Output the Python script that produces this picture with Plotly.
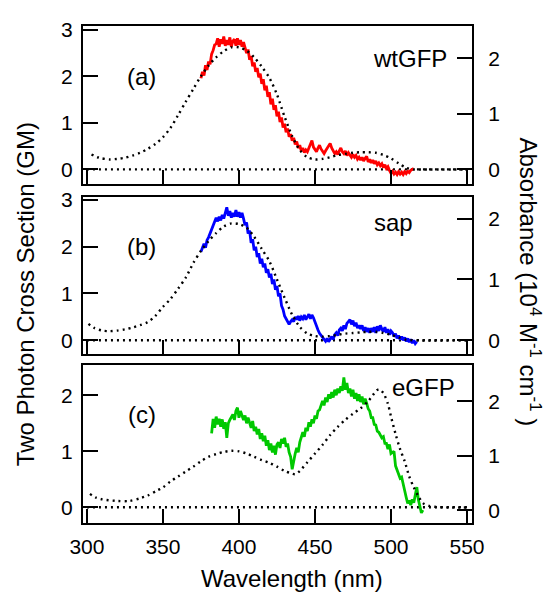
import plotly.graph_objects as go

# ---------------- data ----------------
# Panel (a) wtGFP two-photon cross section (GM), 1 nm steps from 375 nm
red_wl = list(range(375, 516))
red_gm = [1.96, 2.10, 2.02, 2.24, 2.14, 2.32, 2.26, 2.48, 2.56, 2.68,
          2.70, 2.82, 2.64, 2.80, 2.70, 2.86, 2.66, 2.78, 2.68, 2.84,
          2.64, 2.76, 2.80, 2.66, 2.82, 2.68, 2.78, 2.64, 2.74, 2.58,
          2.50, 2.58, 2.36, 2.44, 2.22, 2.30, 2.10, 2.18, 1.98, 2.06,
          1.84, 1.94, 1.70, 1.80, 1.56, 1.66, 1.40, 1.52, 1.28, 1.38,
          1.14, 1.24, 1.02, 1.12, 0.90, 0.98, 0.80, 0.88, 0.70, 0.76,
          0.62, 0.68, 0.54, 0.60, 0.46, 0.52, 0.40, 0.46, 0.36, 0.42,
          0.38, 0.46, 0.56, 0.62, 0.48, 0.42, 0.38, 0.46, 0.52, 0.44,
          0.40, 0.34, 0.40, 0.46, 0.50, 0.56, 0.46, 0.40, 0.34, 0.38,
          0.32, 0.40, 0.46, 0.38, 0.34, 0.40, 0.30, 0.36, 0.32, 0.26,
          0.32, 0.26, 0.30, 0.22, 0.26, 0.20, 0.26, 0.18, 0.24, 0.28,
          0.16, 0.22, 0.14, 0.20, 0.12, 0.18, 0.10, 0.14, 0.08, 0.12,
          0.04, 0.10, 0.02, 0.06, -0.02, -0.08, -0.04, -0.10, -0.06, -0.11,
          -0.05, -0.10, -0.06, -0.11, -0.05, -0.09, -0.04, -0.07, -0.02, 0.00,
          0.02]

# Panel (b) sap two-photon cross section (GM), 1 nm steps from 375 nm
blue_wl = list(range(375, 518))
blue_gm = [1.89, 1.98, 2.06, 1.98, 2.14, 2.20, 2.28, 2.36, 2.42, 2.52,
           2.62, 2.54, 2.64, 2.56, 2.68, 2.60, 2.72, 2.84, 2.66, 2.76,
           2.62, 2.72, 2.64, 2.78, 2.64, 2.74, 2.62, 2.72, 2.60, 2.46,
           2.52, 2.28, 2.34, 2.08, 2.16, 1.92, 2.00, 1.78, 1.86, 1.64,
           1.74, 1.56, 1.64, 1.44, 1.52, 1.34, 1.42, 1.20, 1.30, 1.08,
           1.16, 0.94, 1.00, 0.74, 0.66, 0.52, 0.46, 0.40, 0.34, 0.40,
           0.44, 0.40, 0.50, 0.44, 0.52, 0.42, 0.50, 0.46, 0.54, 0.44,
           0.52, 0.56, 0.46, 0.54, 0.48, 0.38, 0.29, 0.22, 0.15, 0.10,
           0.06, 0.02, -0.02, 0.04, -0.03, 0.02, 0.08, 0.02, 0.12, 0.16,
           0.10, 0.22, 0.26, 0.20, 0.32, 0.24, 0.36, 0.40, 0.44, 0.34,
           0.42, 0.30, 0.38, 0.26, 0.32, 0.24, 0.32, 0.20, 0.28, 0.18,
           0.26, 0.16, 0.26, 0.18, 0.28, 0.16, 0.30, 0.20, 0.32, 0.24,
           0.18, 0.28, 0.16, 0.24, 0.12, 0.20, 0.16, 0.08, 0.14, 0.04,
           0.10, 0.02, 0.08, 0.00, 0.06, -0.02, 0.04, -0.04, 0.02, -0.06,
           0.00, -0.07, -0.03]

# Panel (c) eGFP two-photon cross section (GM), 1 nm steps from 382 nm
green_wl = list(range(382, 522))
green_gm = [1.32, 1.58, 1.42, 1.62, 1.48, 1.58, 1.44, 1.57, 1.40, 1.52,
            1.24, 1.50, 1.56, 1.62, 1.66, 1.56, 1.72, 1.78, 1.60, 1.72,
            1.64, 1.56, 1.64, 1.50, 1.60, 1.48, 1.42, 1.54, 1.36, 1.44,
            1.30, 1.40, 1.22, 1.32, 1.18, 1.28, 1.10, 1.20, 1.02, 1.14,
            0.98, 1.10, 0.94, 1.12, 1.16, 1.06, 1.22, 1.14, 1.24, 1.08,
            1.14, 0.98, 0.90, 0.68, 0.86, 0.96, 1.06, 0.98, 1.16, 1.26,
            1.34, 1.26, 1.42, 1.36, 1.52, 1.44, 1.57, 1.50, 1.64, 1.58,
            1.72, 1.74, 1.84, 1.90, 1.82, 1.96, 1.88, 2.02, 1.94, 2.06,
            1.96, 2.10, 2.00, 2.12, 2.04, 2.16, 2.08, 2.32, 2.10, 2.22,
            2.04, 2.12, 1.98, 2.10, 1.94, 2.04, 1.90, 2.02, 1.88, 1.98,
            1.84, 1.94, 1.86, 1.76, 1.72, 1.60, 1.60, 1.48, 1.47, 1.36,
            1.34, 1.28, 1.24, 1.26, 1.14, 1.14, 1.04, 1.12, 0.96, 0.98,
            1.00, 0.74, 0.66, 0.58, 0.52, 0.54, 0.40, 0.30, 0.18, 0.07,
            0.12, 0.04, 0.14, 0.08, 0.26, 0.36, 0.14, 0.04, -0.10, -0.05]

# Absorbance (10^4 M^-1 cm^-1), dotted curves
abs_a_wl = [303, 308, 315, 320, 325, 330, 335, 340, 345, 350, 355, 360, 365,
            370, 375, 380, 385, 390, 395, 400, 405, 410, 415, 420, 425, 430,
            435, 440, 445, 450, 455, 460, 465, 470, 475, 480, 485, 490, 495,
            500, 505, 510, 515, 520, 550]
abs_a = [0.27, 0.21, 0.18, 0.19, 0.21, 0.25, 0.30, 0.37, 0.46, 0.58, 0.75,
         0.98, 1.22, 1.45, 1.68, 1.87, 2.02, 2.13, 2.20, 2.20, 2.14, 2.02,
         1.85, 1.65, 1.35, 0.95, 0.60, 0.35, 0.22, 0.18, 0.19, 0.22, 0.26,
         0.28, 0.30, 0.31, 0.31, 0.30, 0.26, 0.20, 0.11, 0.03, 0.00, 0.00,
         0.00]

abs_b_wl = [301, 305, 310, 315, 320, 325, 330, 335, 340, 345, 350, 355, 360,
            365, 370, 375, 380, 385, 390, 395, 400, 405, 410, 415, 420, 425,
            430, 435, 440, 445, 450, 455, 460, 465, 470, 475, 480, 485, 490,
            495, 500, 505, 510, 515, 550]
abs_b = [0.27, 0.20, 0.16, 0.15, 0.16, 0.18, 0.21, 0.25, 0.30, 0.40, 0.55,
         0.68, 0.85, 1.03, 1.27, 1.47, 1.63, 1.76, 1.87, 1.92, 1.91, 1.85,
         1.70, 1.50, 1.30, 1.00, 0.70, 0.42, 0.22, 0.11, 0.07, 0.06, 0.07,
         0.09, 0.11, 0.12, 0.13, 0.14, 0.14, 0.12, 0.09, 0.05, 0.01, 0.00,
         0.00]

abs_c_wl = [302, 306, 310, 320, 328, 335, 340, 346, 350, 355, 360, 365, 370,
            375, 380, 385, 390, 395, 400, 405, 410, 415, 420, 425, 430, 435,
            437, 440, 445, 450, 455, 460, 465, 470, 475, 480, 485, 490, 492,
            495, 498, 500, 503, 506, 509, 512, 515, 518, 521, 525, 530, 540,
            550]
abs_c = [0.30, 0.23, 0.20, 0.17, 0.17, 0.22, 0.27, 0.36, 0.42, 0.53, 0.62,
         0.71, 0.80, 0.90, 0.98, 1.03, 1.07, 1.09, 1.08, 1.04, 0.98, 0.92,
         0.87, 0.80, 0.72, 0.67, 0.66, 0.72, 0.88, 1.04, 1.20, 1.38, 1.53,
         1.66, 1.77, 1.87, 2.00, 2.18, 2.22, 2.15, 1.95, 1.72, 1.40, 1.12,
         0.90, 0.62, 0.42, 0.26, 0.13, 0.08, 0.06, 0.05, 0.05]

zero_wl = [300, 550]
zero_val = [0, 0]

x_ticks = [300, 350, 400, 450, 500, 550]
gm_ticks_ab = [0, 1, 2, 3]
gm_ticks_c = [0, 1, 2]
abs_ticks = [0, 1, 2]

panel_labels = ["(a)", "(b)", "(c)"]
protein_labels = ["wtGFP", "sap", "eGFP"]

# ---------------- figure ----------------
FONT = "Liberation Sans, Arial, sans-serif"
DOT = dict(color="black", width=2.4, dash="2px,4px")

fig = go.Figure()

panels = [
    ("x", "y", "y2", red_wl, red_gm, "#ff0000", abs_a_wl, abs_a),
    ("x2", "y3", "y4", blue_wl, blue_gm, "#0000ff", abs_b_wl, abs_b),
    ("x3", "y5", "y6", green_wl, green_gm, "#00c800", abs_c_wl, abs_c),
]

for xa, yl, yr, wl, gm, col, awl, av in panels:
    fig.add_trace(go.Scatter(x=zero_wl, y=zero_val, xaxis=xa, yaxis=yl,
                             mode="lines", line=DOT, showlegend=False,
                             hoverinfo="skip"))
    fig.add_trace(go.Scatter(x=awl, y=av, xaxis=xa, yaxis=yr, mode="lines",
                             line=dict(DOT, shape="spline", smoothing=0.8),
                             showlegend=False))
    fig.add_trace(go.Scatter(x=wl, y=gm, xaxis=xa, yaxis=yl, mode="lines",
                             line=dict(color=col, width=2.8),
                             showlegend=False))

XR = [297.4, 553.3]
domains = [[0.6818, 1.0], [0.3399, 0.6561], [0.0, 0.3182]]
left_ranges = [[-0.317, 3.085], [-0.294, 3.063], [-0.281, 2.544]]
right_ranges = [[-0.265, 2.584], [-0.226, 2.355], [-0.234, 2.667]]
left_ticks = [gm_ticks_ab, gm_ticks_ab, gm_ticks_c]

common_line = dict(showline=True, linecolor="black", linewidth=2,
                   showgrid=False, zeroline=False,
                   tickfont=dict(family=FONT, size=21, color="black"))

# page body adds an 8 px offset; figure is shrunk so plot area lands in place
layout = dict(
    width=548, height=586,
    margin=dict(l=75, r=84, t=9, b=71),
    paper_bgcolor="white", plot_bgcolor="white",
    showlegend=False,
    font=dict(family=FONT, color="black"),
)

for i in range(3):
    xname = "xaxis" if i == 0 else f"xaxis{i+1}"
    yl_name = f"yaxis{2*i+1}" if i > 0 else "yaxis"
    yr_name = f"yaxis{2*i+2}"
    yl_id = "y" if i == 0 else f"y{2*i+1}"
    x_id = "x" if i == 0 else f"x{i+1}"
    layout[xname] = dict(common_line, domain=[0, 1], range=XR, anchor=yl_id,
                         mirror=True, ticks="inside", ticklen=14, tickwidth=2,
                         tickcolor="black", tickvals=x_ticks,
                         showticklabels=(i == 2), ticklabelstandoff=4)
    layout[yl_name] = dict(common_line, domain=domains[i], range=left_ranges[i],
                           anchor=x_id, side="left", ticks="inside",
                           ticklen=15, tickwidth=2, tickcolor="black",
                           tickvals=left_ticks[i], ticklabelstandoff=4)
    layout[yr_name] = dict(common_line, domain=domains[i], range=right_ranges[i],
                           anchor=x_id, overlaying=yl_id, side="right",
                           ticks="inside", ticklen=15, tickwidth=2,
                           tickcolor="black", tickvals=abs_ticks,
                           ticklabelstandoff=10)

fig.update_layout(**layout)

ann = []
label_pos = [(336, 2.0, "x", "y"), (336, 2.0, "x2", "y3"), (336, 1.65, "x3", "y5")]
for (lx, ly, xr, yr), txt in zip(label_pos, panel_labels):
    ann.append(dict(x=lx, y=ly, xref=xr, yref=yr, text=txt, showarrow=False,
                    xanchor="center", yanchor="middle",
                    font=dict(family=FONT, size=24, color="black")))
prot_pos = [(538, 2.0, "x", "y2"), (516, 1.94, "x2", "y4"), (543.5, 2.14, "x3", "y5")]
for (lx, ly, xr, yr), txt in zip(prot_pos, protein_labels):
    ann.append(dict(x=lx, y=ly, xref=xr, yref=yr, text=txt, showarrow=False,
                    xanchor="right", yanchor="middle",
                    font=dict(family=FONT, size=24, color="black")))

ann.append(dict(x=0.537, y=-0.1126, xref="paper", yref="paper",
                text="Wavelength (nm)", showarrow=False, xanchor="center",
                yanchor="middle", font=dict(family=FONT, size=24, color="black")))
ann.append(dict(x=-0.149, y=0.4605, xref="paper", yref="paper",
                text="Two Photon Cross Section (GM)", showarrow=False,
                textangle=-90, xanchor="center", yanchor="middle",
                font=dict(family=FONT, size=24, color="black")))
ann.append(dict(x=1.149, y=0.484, xref="paper", yref="paper",
                text="Absorbance (10<sup>4</sup> M<sup>-1</sup> cm<sup>-1</sup> )",
                showarrow=False, textangle=90, xanchor="center",
                yanchor="middle", font=dict(family=FONT, size=24, color="black")))
fig.update_layout(annotations=ann)

fig.write_html("out.html")
